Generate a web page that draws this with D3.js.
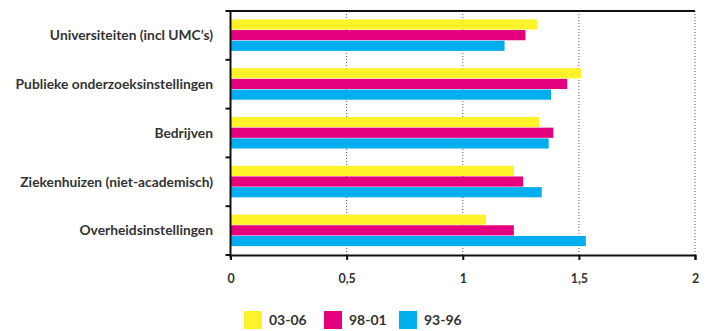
<!DOCTYPE html>
<html><head><meta charset="utf-8">
<script src="https://cdn.jsdelivr.net/npm/d3@7"></script>
<style>body{margin:0;background:#fff}svg{display:block}</style>
</head><body>
<svg id="c" width="709" height="331"></svg>
<script>
const categories = ["Universiteiten (incl UMC\u2019s)", "Publieke onderzoeksinstellingen", "Bedrijven", "Ziekenhuizen (niet-academisch)", "Overheidsinstellingen"];
const seriesNames = ["03-06", "98-01", "93-96"];
const v0306 = [1.32, 1.51, 1.33, 1.22, 1.10];
const v9801 = [1.27, 1.45, 1.39, 1.26, 1.22];
const v9396 = [1.18, 1.38, 1.37, 1.34, 1.53];
const xTicks = [0, 0.5, 1, 1.5, 2];
const xTickLabels = ["0", "0,5", "1", "1,5", "2"];
const colors = ["#FFF229", "#E5007D", "#00AEEF"];

const series = [v0306, v9801, v9396];
const svg = d3.select("#c");
const font = "Lato, 'Open Sans', sans-serif";
const L = 230.5, R = 695, T = 11, B = 255;

const x = d3.scaleLinear().domain([0, 2]).range([L, R]);
const y = d3.scaleBand().domain(categories).range([T, B]).paddingInner(0).paddingOuter(0);
const inner = d3.scaleBand().domain(seriesNames).range([0, 32]).padding(0);
const off = (y.bandwidth() - 32) / 2;

// gridlines
svg.append("g").selectAll("line").data(xTicks.slice(1)).join("line")
  .attr("x1", d => x(d)).attr("x2", d => x(d)).attr("y1", T).attr("y2", B)
  .attr("stroke", "#555").attr("stroke-width", 1).attr("stroke-dasharray", "1,2");

// bars
series.forEach((vals, si) => {
  svg.append("g").selectAll("rect").data(vals).join("rect")
    .attr("x", x(0)).attr("width", d => x(d) - x(0))
    .attr("y", (d, i) => y(categories[i]) + off + inner(seriesNames[si]))
    .attr("height", inner.bandwidth() - 0.5)
    .attr("fill", colors[si]);
});

// top line
svg.append("line").attr("x1", L).attr("x2", R).attr("y1", T).attr("y2", T)
  .attr("stroke", "#111").attr("stroke-width", 2);

// bottom axis
const xAxis = d3.axisBottom(x).tickValues(xTicks).tickFormat((d, i) => xTickLabels[i]).tickSizeOuter(0).tickSize(5).tickPadding(14);
const gx = svg.append("g").attr("transform", `translate(0,${B})`).call(xAxis);
gx.select(".domain").attr("stroke", "#111").attr("stroke-width", 2);
gx.selectAll(".tick line").attr("stroke", "#111").attr("stroke-width", 2);
gx.selectAll("text").attr("font-family", font).attr("font-size", 12.5).attr("font-weight", "bold").attr("fill", "#333");

// left axis
const yb = d3.scaleLinear().domain([0, 5]).range([T, B]);
svg.append("line").attr("x1", L).attr("x2", L).attr("y1", T - 1).attr("y2", B + 3)
  .attr("stroke", "#111").attr("stroke-width", 2);
svg.append("g").selectAll("line").data(d3.range(0, 6)).join("line")
  .attr("x1", L - 5).attr("x2", L).attr("y1", d => yb(d)).attr("y2", d => yb(d))
  .attr("stroke", "#111").attr("stroke-width", 2);

// category labels
svg.append("g").selectAll("text").data(categories).join("text")
  .attr("x", 213).attr("y", d => y(d) + y.bandwidth() / 2).attr("dy", "0.35em")
  .attr("text-anchor", "end").attr("font-family", font).attr("font-size", 13.8)
  .attr("font-weight", "bold").attr("fill", "#333").text(d => d);

// legend
const lx = [244, 324, 399];
const lg = svg.append("g").selectAll("g").data(seriesNames).join("g")
  .attr("transform", (d, i) => `translate(${lx[i]},311)`);
lg.append("rect").attr("width", 18).attr("height", 18).attr("fill", (d, i) => colors[i]);
lg.append("text").attr("x", 25).attr("y", 9).attr("dy", "0.35em")
  .attr("font-family", font).attr("font-size", 14).attr("font-weight", "bold").attr("fill", "#333").text(d => d);
</script>
</body></html>
